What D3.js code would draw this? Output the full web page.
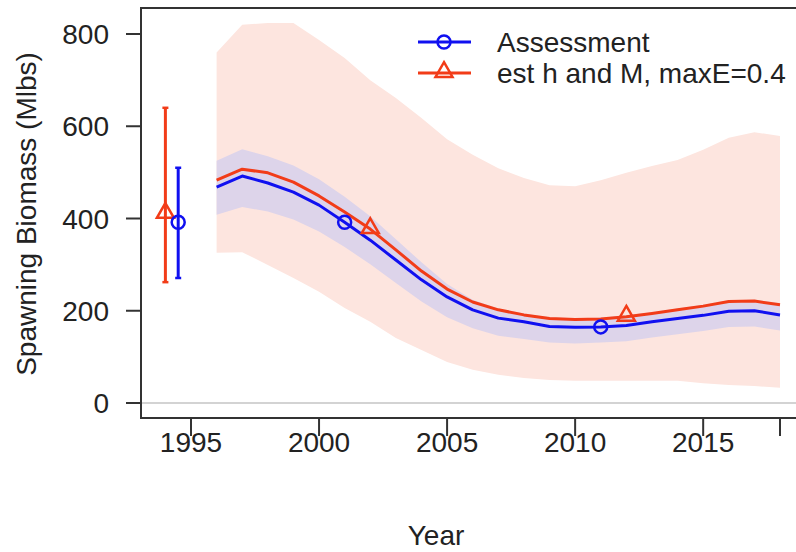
<!DOCTYPE html>
<html lang="en">
<head>
<meta charset="UTF-8">
<title>Spawning Biomass</title>
<script src="https://cdnjs.cloudflare.com/ajax/libs/d3/7.8.5/d3.min.js"></script>
<style>
    body { margin: 0; background: #fff; }
    svg text { font-family: "Liberation Sans", Arial, sans-serif; fill: #222; }
</style>
</head>
<body>
<svg id="chart" width="796" height="552"></svg>
<script>
    // model years
    const years = d3.range(1996, 2019);

    // Assessment (blue) and its interval
    const assessment = [468, 492, 477, 457, 429, 392, 353, 310, 267, 230, 202, 184, 176, 166, 164, 165, 168, 176, 183, 190, 199, 200, 191];
    const assessLo = [408, 425, 415, 398, 372, 338, 301, 260, 220, 186, 162, 146, 139, 131, 129, 131, 134, 142, 149, 156, 165, 166, 157];
    const assessHi = [525, 550, 535, 515, 485, 447, 405, 355, 305, 258, 224, 205, 194, 186, 184, 185, 190, 197, 205, 213, 223, 224, 216];

    // est h and M, maxE=0.4 (red) and its interval
    const estHM = [483, 507, 499, 479, 449, 414, 377, 332, 286, 247, 219, 202, 191, 183, 181, 182, 187, 194, 202, 210, 220, 221, 213];
    const estLo = [326, 327, 299, 271, 241, 206, 176, 141, 115, 89, 72, 61, 54, 50, 48, 48, 48, 48, 48, 43, 39, 37, 33];
    const estHi = [760, 820, 824, 824, 787, 748, 700, 661, 618, 572, 538, 509, 488, 472, 470, 483, 499, 514, 527, 549, 575, 587, 579];

    // years that carry a marker
    const blueMarks = [2001, 2011];
    const redMarks = [2002, 2012];

    // points with error bars on the left
    const startPts = [
        { name: "est", year: 1994.0, val: 410, lo: 262, hi: 640 },
        { name: "assess", year: 1994.5, val: 392, lo: 271, hi: 510 }
    ];

    const xTicks = [1995, 2000, 2005, 2010, 2015, 2018];
    const xTickLabels = [1995, 2000, 2005, 2010, 2015];
    const yTicks = [0, 200, 400, 600, 800];

    const blue = "#1010f0", red = "#f23c18";
    const fontSize = 28;

    const svg = d3.select("#chart");
    const box = { left: 141, top: 8, right: 800, bottom: 418 };

    const x = d3.scaleLinear().domain([1995, 2018]).range([191, 780]);
    const y = d3.scaleLinear().domain([0, 800]).range([403, 34]);

    const rows = years.map((yr, i) => ({
        yr, a: assessment[i], aLo: assessLo[i], aHi: assessHi[i],
        e: estHM[i], eLo: estLo[i], eHi: estHi[i]
    }));

    // bands
    svg.append("path")
        .datum(rows)
        .attr("fill", "#fde5df")
        .attr("d", d3.area().x(d => x(d.yr)).y0(d => y(d.eLo)).y1(d => y(d.eHi)));

    svg.append("path")
        .datum(rows)
        .attr("fill", "#ddd4ea")
        .attr("d", d3.area().x(d => x(d.yr)).y0(d => y(d.aLo)).y1(d => y(d.aHi)));

    // zero line
    svg.append("line")
        .attr("x1", box.left).attr("x2", box.right)
        .attr("y1", y(0)).attr("y2", y(0))
        .attr("stroke", "#c4c4c4").attr("stroke-width", 1.5);

    // lines
    svg.append("path").datum(rows)
        .attr("fill", "none").attr("stroke", blue).attr("stroke-width", 3)
        .attr("stroke-linejoin", "round")
        .attr("d", d3.line().x(d => x(d.yr)).y(d => y(d.a)));

    svg.append("path").datum(rows)
        .attr("fill", "none").attr("stroke", red).attr("stroke-width", 3)
        .attr("stroke-linejoin", "round")
        .attr("d", d3.line().x(d => x(d.yr)).y(d => y(d.e)));

    const tri = d3.symbol().type(d3.symbolTriangle).size(125);

    function circle(g, cx, cy) {
        g.append("circle").attr("cx", cx).attr("cy", cy).attr("r", 6.5)
            .attr("fill", "none").attr("stroke", blue).attr("stroke-width", 2.5);
    }
    function triangle(g, cx, cy) {
        g.append("path").attr("d", tri).attr("transform", `translate(${cx},${cy - 1})`)
            .attr("fill", "none").attr("stroke", red).attr("stroke-width", 2.5);
    }

    blueMarks.forEach(yr => circle(svg, x(yr), y(assessment[years.indexOf(yr)])));
    redMarks.forEach(yr => triangle(svg, x(yr), y(estHM[years.indexOf(yr)])));

    // error bars
    startPts.forEach(p => {
        const col = p.name === "est" ? red : blue;
        const g = svg.append("g");
        g.append("line").attr("x1", x(p.year)).attr("x2", x(p.year))
            .attr("y1", y(p.lo)).attr("y2", y(p.hi))
            .attr("stroke", col).attr("stroke-width", 3);
        [p.lo, p.hi].forEach(v => g.append("line")
            .attr("x1", x(p.year) - 3).attr("x2", x(p.year) + 3)
            .attr("y1", y(v)).attr("y2", y(v))
            .attr("stroke", col).attr("stroke-width", 2.5));
        if (p.name === "est") triangle(g, x(p.year), y(p.val));
        else circle(g, x(p.year), y(p.val));
    });

    // frame
    svg.append("path")
        .attr("d", `M${box.right},${box.top}H${box.left}V${box.bottom}H${box.right}`)
        .attr("fill", "none").attr("stroke", "#333").attr("stroke-width", 2);

    // axes
    const yAxis = svg.append("g");
    yAxis.selectAll("line").data(yTicks).join("line")
        .attr("x1", 126).attr("x2", box.left)
        .attr("y1", d => y(d)).attr("y2", d => y(d))
        .attr("stroke", "#333").attr("stroke-width", 2);
    yAxis.selectAll("text").data(yTicks).join("text")
        .attr("x", 109).attr("y", d => y(d)).attr("dy", "0.36em")
        .attr("text-anchor", "end").attr("font-size", fontSize)
        .text(d => d);

    const xAxis = svg.append("g");
    xAxis.selectAll("line").data(xTicks).join("line")
        .attr("x1", d => x(d)).attr("x2", d => x(d))
        .attr("y1", box.bottom).attr("y2", 436)
        .attr("stroke", "#333").attr("stroke-width", 2);
    xAxis.selectAll("text").data(xTickLabels).join("text")
        .attr("x", d => x(d)).attr("y", 452)
        .attr("text-anchor", "middle").attr("font-size", fontSize)
        .text(d => d);

    svg.append("text")
        .attr("x", 436).attr("y", 545)
        .attr("text-anchor", "middle").attr("font-size", fontSize)
        .text("Year");

    svg.append("text")
        .attr("transform", "translate(36,214) rotate(-90)")
        .attr("text-anchor", "middle").attr("font-size", fontSize)
        .text("Spawning Biomass (Mlbs)");

    // legend
    const legend = svg.append("g");
    const items = [
        { label: "Assessment", col: blue, mark: circle, yPos: 42 },
        { label: "est h and M, maxE=0.4", col: red, mark: triangle, yPos: 73 }
    ];
    items.forEach(it => {
        legend.append("line").attr("x1", 418).attr("x2", 471)
            .attr("y1", it.yPos).attr("y2", it.yPos)
            .attr("stroke", it.col).attr("stroke-width", 3);
        it.mark(legend, 444, it.yPos);
        legend.append("text").attr("x", 497).attr("y", it.yPos).attr("dy", "0.36em")
            .attr("font-size", fontSize).text(it.label);
    });
</script>
</body>
</html>
